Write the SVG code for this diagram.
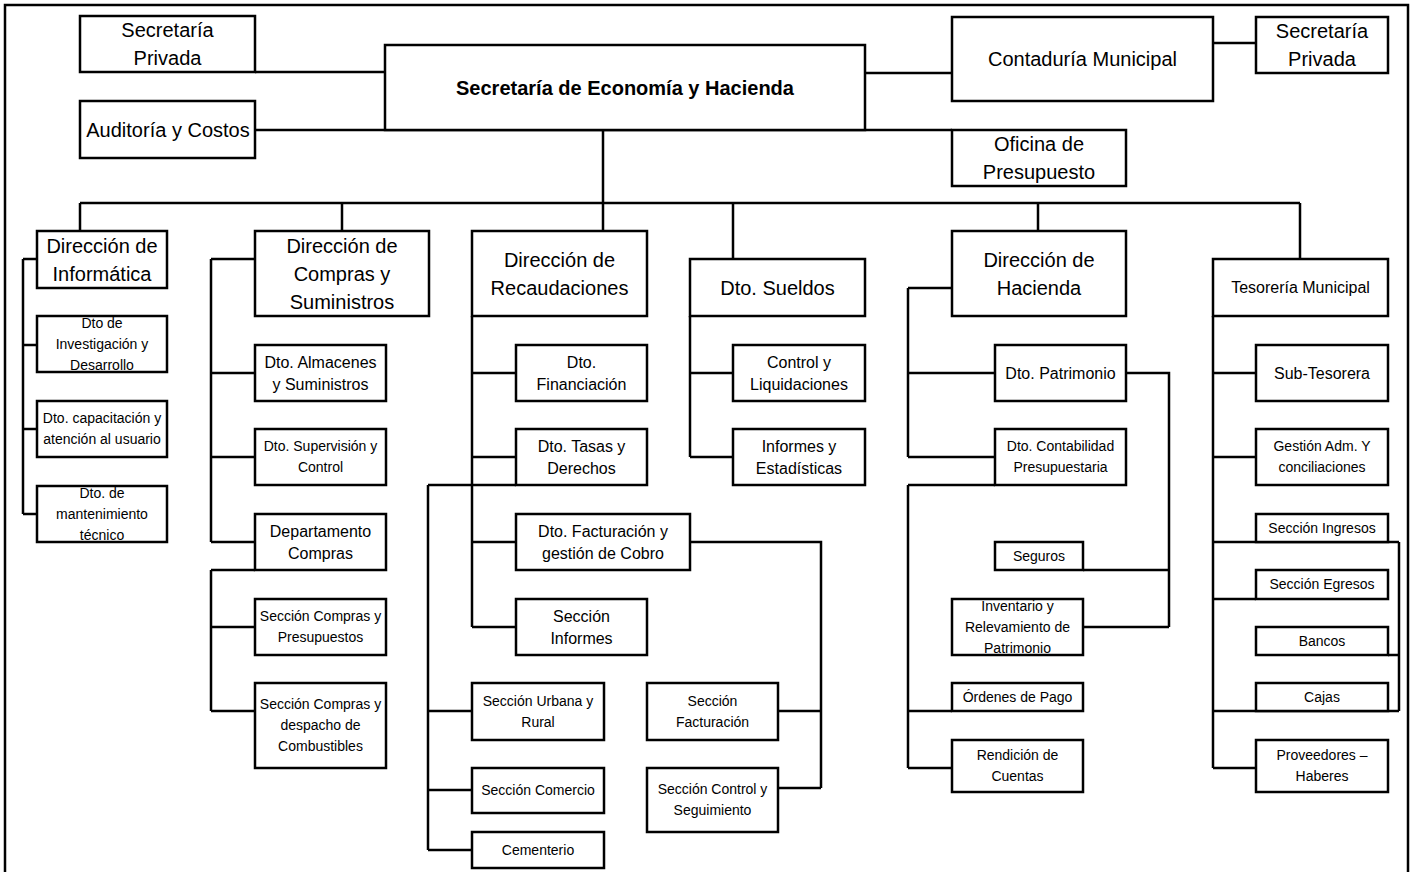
<svg xmlns="http://www.w3.org/2000/svg" width="1414" height="872" viewBox="0 0 1414 872">
<style>
.b{fill:#fff;stroke:#000;stroke-width:2.5}
.c{fill:none;stroke:#000;stroke-width:2.5}
text{font-family:"Liberation Sans",Arial,sans-serif;fill:#000;text-anchor:middle}
.f20{font-size:20px}
.f16{font-size:16px}
.f14{font-size:14px}
.bold{font-weight:bold}
</style>
<rect x="0" y="0" width="1414" height="872" fill="#fff"/>
<rect x="5" y="5" width="1403" height="900" fill="none" stroke="#000" stroke-width="2.5"/>
<g id="connectors" class="c">
<path d="M255,72H385M255,130H952M865,73H952M1213,43H1256"/>
<path d="M603,130V203M80,203H1300M80,203V231M342,203V231M603,203V231M733,203V259M1038,203V231M1300,203V259"/>
<path d="M23,259V514M23,259H37M23,345H37M23,429H37M23,514H37"/>
<path d="M211,259V542M211,259H255M211,373H255M211,457H255M211,542H255M211,570V711M211,570H255M211,627H255M211,711H255"/>
<path d="M472,316V627M472,373H516M472,457H516M472,542H516M472,627H516"/>
<path d="M428,485H516M428,485V850M428,711H472M428,790H472M428,850H472"/>
<path d="M690,542H821V788M778,711H821M778,788H821"/>
<path d="M690,316V457M690,373H733M690,457H733"/>
<path d="M908,288V457M908,288H952M908,373H995M908,457H995M908,485H995M908,485V768M908,711H952M908,768H952"/>
<path d="M1126,373H1169V627M1083,570H1169M1083,627H1169"/>
<path d="M1213,316V768M1213,373H1256M1213,457H1256M1213,542H1399M1213,599H1256M1213,711H1399M1213,768H1256M1399,542V711M1388,655H1399"/>
</g>
<g id="secpriv_l"><rect class="b" x="80" y="16" width="175" height="56"/><text class="f20" x="167.5" y="37">Secretaría</text><text class="f20" x="167.5" y="65">Privada</text></g>
<g id="main"><rect class="b" x="385" y="45" width="480" height="85"/><text class="f20 bold" x="625" y="94.5">Secretaría de Economía y Hacienda</text></g>
<g id="auditoria"><rect class="b" x="80" y="101" width="175" height="57"/><text class="f20" x="168" y="136.5">Auditoría y Costos</text></g>
<g id="contaduria"><rect class="b" x="952" y="17" width="261" height="84"/><text class="f20" x="1082.5" y="66">Contaduría Municipal</text></g>
<g id="secpriv_r"><rect class="b" x="1256" y="17" width="132" height="56"/><text class="f20" x="1322" y="38">Secretaría</text><text class="f20" x="1322" y="66">Privada</text></g>
<g id="oficina"><rect class="b" x="952" y="130" width="174" height="56"/><text class="f20" x="1039" y="151">Oficina de</text><text class="f20" x="1039" y="179">Presupuesto</text></g>
<g id="dir_inf"><rect class="b" x="37" y="231" width="130" height="57"/><text class="f20" x="102" y="252.5">Dirección de</text><text class="f20" x="102" y="280.5">Informática</text></g>
<g id="inv"><rect class="b" x="37" y="316" width="130" height="56"/><text class="f14" x="102" y="328">Dto de</text><text class="f14" x="102" y="349">Investigación y</text><text class="f14" x="102" y="370">Desarrollo</text></g>
<g id="cap"><rect class="b" x="37" y="401" width="130" height="56"/><text class="f14" x="102" y="423.4">Dto. capacitación y</text><text class="f14" x="102" y="444.4">atención al usuario</text></g>
<g id="mant"><rect class="b" x="37" y="486" width="130" height="56"/><text class="f14" x="102" y="498">Dto. de</text><text class="f14" x="102" y="519">mantenimiento</text><text class="f14" x="102" y="540">técnico</text></g>
<g id="dir_comp"><rect class="b" x="255" y="231" width="174" height="85"/><text class="f20" x="342" y="252.5">Dirección de</text><text class="f20" x="342" y="280.5">Compras y</text><text class="f20" x="342" y="308.5">Suministros</text></g>
<g id="almacenes"><rect class="b" x="255" y="345" width="131" height="56"/><text class="f16" x="320.5" y="367.6">Dto. Almacenes</text><text class="f16" x="320.5" y="389.6">y Suministros</text></g>
<g id="superv"><rect class="b" x="255" y="429" width="131" height="56"/><text class="f14" x="320.5" y="451.4">Dto. Supervisión y</text><text class="f14" x="320.5" y="472.4">Control</text></g>
<g id="depcomp"><rect class="b" x="255" y="514" width="131" height="56"/><text class="f16" x="320.5" y="536.6">Departamento</text><text class="f16" x="320.5" y="558.6">Compras</text></g>
<g id="seccp"><rect class="b" x="255" y="599" width="131" height="56"/><text class="f14" x="320.5" y="621.4">Sección Compras y</text><text class="f14" x="320.5" y="642.4">Presupuestos</text></g>
<g id="seccd"><rect class="b" x="255" y="683" width="131" height="85"/><text class="f14" x="320.5" y="709.4">Sección Compras y</text><text class="f14" x="320.5" y="730.4">despacho de</text><text class="f14" x="320.5" y="751.4">Combustibles</text></g>
<g id="dir_rec"><rect class="b" x="472" y="231" width="175" height="85"/><text class="f20" x="559.5" y="266.5">Dirección de</text><text class="f20" x="559.5" y="294.5">Recaudaciones</text></g>
<g id="financ"><rect class="b" x="516" y="345" width="131" height="56"/><text class="f16" x="581.5" y="367.6">Dto.</text><text class="f16" x="581.5" y="389.6">Financiación</text></g>
<g id="tasas"><rect class="b" x="516" y="429" width="131" height="56"/><text class="f16" x="581.5" y="451.6">Dto. Tasas y</text><text class="f16" x="581.5" y="473.6">Derechos</text></g>
<g id="factur"><rect class="b" x="516" y="514" width="174" height="56"/><text class="f16" x="603" y="536.6">Dto. Facturación y</text><text class="f16" x="603" y="558.6">gestión de Cobro</text></g>
<g id="secinf"><rect class="b" x="516" y="599" width="131" height="56"/><text class="f16" x="581.5" y="621.6">Sección</text><text class="f16" x="581.5" y="643.6">Informes</text></g>
<g id="urbana"><rect class="b" x="472" y="683" width="132" height="57"/><text class="f14" x="538" y="705.9">Sección Urbana y</text><text class="f14" x="538" y="726.9">Rural</text></g>
<g id="comercio"><rect class="b" x="472" y="768" width="132" height="45"/><text class="f14" x="538" y="795.4">Sección Comercio</text></g>
<g id="cementerio"><rect class="b" x="472" y="832" width="132" height="36"/><text class="f14" x="538" y="854.9">Cementerio</text></g>
<g id="secfact"><rect class="b" x="647" y="683" width="131" height="57"/><text class="f14" x="712.5" y="705.9">Sección</text><text class="f14" x="712.5" y="726.9">Facturación</text></g>
<g id="secctrl"><rect class="b" x="647" y="768" width="131" height="64"/><text class="f14" x="712.5" y="794.4">Sección Control y</text><text class="f14" x="712.5" y="815.4">Seguimiento</text></g>
<g id="sueldos"><rect class="b" x="690" y="259" width="175" height="57"/><text class="f20" x="777.5" y="294.5">Dto. Sueldos</text></g>
<g id="control"><rect class="b" x="733" y="345" width="132" height="56"/><text class="f16" x="799" y="367.6">Control y</text><text class="f16" x="799" y="389.6">Liquidaciones</text></g>
<g id="informes"><rect class="b" x="733" y="429" width="132" height="56"/><text class="f16" x="799" y="451.6">Informes y</text><text class="f16" x="799" y="473.6">Estadísticas</text></g>
<g id="dir_hac"><rect class="b" x="952" y="231" width="174" height="85"/><text class="f20" x="1039" y="266.5">Dirección de</text><text class="f20" x="1039" y="294.5">Hacienda</text></g>
<g id="patrimonio"><rect class="b" x="995" y="345" width="131" height="56"/><text class="f16" x="1060.5" y="378.6">Dto. Patrimonio</text></g>
<g id="contab"><rect class="b" x="995" y="429" width="131" height="56"/><text class="f14" x="1060.5" y="451.4">Dto. Contabilidad</text><text class="f14" x="1060.5" y="472.4">Presupuestaria</text></g>
<g id="seguros"><rect class="b" x="995" y="542" width="88" height="28"/><text class="f14" x="1039" y="560.9">Seguros</text></g>
<g id="inventario"><rect class="b" x="952" y="599" width="131" height="56"/><text class="f14" x="1017.5" y="610.9">Inventario y</text><text class="f14" x="1017.5" y="631.9">Relevamiento de</text><text class="f14" x="1017.5" y="652.9">Patrimonio</text></g>
<g id="ordenes"><rect class="b" x="952" y="683" width="131" height="28"/><text class="f14" x="1017.5" y="701.9">Órdenes de Pago</text></g>
<g id="rendicion"><rect class="b" x="952" y="740" width="131" height="52"/><text class="f14" x="1017.5" y="760.4">Rendición de</text><text class="f14" x="1017.5" y="781.4">Cuentas</text></g>
<g id="tesoreria"><rect class="b" x="1213" y="259" width="175" height="57"/><text class="f16" x="1300.5" y="293.1">Tesorería Municipal</text></g>
<g id="subtes"><rect class="b" x="1256" y="345" width="132" height="56"/><text class="f16" x="1322" y="378.6">Sub-Tesorera</text></g>
<g id="gestion"><rect class="b" x="1256" y="429" width="132" height="56"/><text class="f14" x="1322" y="451.4">Gestión Adm. Y</text><text class="f14" x="1322" y="472.4">conciliaciones</text></g>
<g id="ingresos"><rect class="b" x="1256" y="514" width="132" height="28"/><text class="f14" x="1322" y="532.9">Sección Ingresos</text></g>
<g id="egresos"><rect class="b" x="1256" y="570" width="132" height="29"/><text class="f14" x="1322" y="589.4">Sección Egresos</text></g>
<g id="bancos"><rect class="b" x="1256" y="627" width="132" height="28"/><text class="f14" x="1322" y="645.9">Bancos</text></g>
<g id="cajas"><rect class="b" x="1256" y="683" width="132" height="28"/><text class="f14" x="1322" y="701.9">Cajas</text></g>
<g id="proveedores"><rect class="b" x="1256" y="740" width="132" height="52"/><text class="f14" x="1322" y="760.4">Proveedores –</text><text class="f14" x="1322" y="781.4">Haberes</text></g>
</svg>
